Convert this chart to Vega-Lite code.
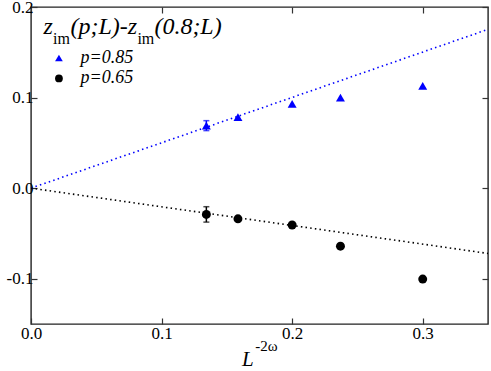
{
  "$schema": "https://vega.github.io/schema/vega-lite/v6.json",
  "width": 457,
  "height": 317,
  "autosize": {"type": "none"},
  "padding": {"left": 31, "top": 7, "right": 3, "bottom": 47},
  "background": "white",
  "config": {
    "view": {"stroke": "#222222", "strokeWidth": 1.4},
    "font": "Times New Roman, Liberation Serif, DejaVu Serif, serif",
    "text": {"font": "Times New Roman, Liberation Serif, DejaVu Serif, serif"},
    "axis": {
      "grid": false,
      "domain": false,
      "tickSize": -6,
      "tickColor": "#333333",
      "tickWidth": 1.2,
      "labelFont": "Times New Roman, Liberation Serif, DejaVu Serif, serif",
      "labelFontSize": 17,
      "labelColor": "#000000",
      "title": null
    }
  },
  "datasets": {
    "one": [{}],
    "lines": [
      {"p": "0.85", "x": 0, "y": 0},
      {"p": "0.85", "x": 0.35, "y": 0.1753},
      {"p": "0.65", "x": 0, "y": 0},
      {"p": "0.65", "x": 0.35, "y": -0.0721}
    ],
    "pts": [
      {"p": "0.85", "x": 0.1343, "y": 0.069},
      {"p": "0.85", "x": 0.1585, "y": 0.0784},
      {"p": "0.85", "x": 0.2, "y": 0.093},
      {"p": "0.85", "x": 0.237, "y": 0.1},
      {"p": "0.85", "x": 0.3, "y": 0.1129},
      {"p": "0.65", "x": 0.1343, "y": -0.029},
      {"p": "0.65", "x": 0.1585, "y": -0.0339},
      {"p": "0.65", "x": 0.2, "y": -0.0407},
      {"p": "0.65", "x": 0.237, "y": -0.0641},
      {"p": "0.65", "x": 0.3, "y": -0.1004}
    ],
    "errs": [
      {"p": "0.85", "x": 0.1343, "lo": 0.0635, "hi": 0.0745},
      {"p": "0.65", "x": 0.1343, "lo": -0.0375, "hi": -0.0205}
    ]
  },
  "layer": [
    {
      "data": {"name": "lines"},
      "mark": {"type": "line", "strokeDash": [1.5, 3.2], "strokeWidth": 1.6},
      "encoding": {
        "x": {
          "field": "x", "type": "quantitative",
          "scale": {"domain": [0, 0.35], "nice": false, "zero": false},
          "axis": {"orient": "bottom", "values": [0, 0.1, 0.2, 0.3], "labelPadding": 7, "labelFlush": false,
                   "labelExpr": "datum.value < 0 ? '-' + format(-datum.value, '.1f') : format(datum.value, '.1f')"}
        },
        "y": {
          "field": "y", "type": "quantitative",
          "scale": {"domain": [-0.15, 0.2], "nice": false, "zero": false},
          "axis": {"orient": "left", "values": [-0.1, 0, 0.1, 0.2], "labelPadding": 4,
                   "labelExpr": "datum.value < 0 ? '-' + format(-datum.value, '.1f') : format(datum.value, '.1f')"}
        },
        "color": {"field": "p", "type": "nominal",
                  "scale": {"domain": ["0.85", "0.65"], "range": ["#0000ff", "#000000"]}, "legend": null}
      }
    },
    {
      "data": {"name": "errs"},
      "mark": {"type": "rule", "strokeWidth": 1.5},
      "encoding": {
        "x": {"field": "x", "type": "quantitative", "axis": null},
        "y": {"field": "lo", "type": "quantitative", "axis": null},
        "y2": {"field": "hi"},
        "color": {"field": "p", "type": "nominal", "legend": null}
      }
    },
    {
      "data": {"name": "errs"},
      "mark": {"type": "tick", "orient": "horizontal", "size": 6, "thickness": 1.5},
      "encoding": {
        "x": {"field": "x", "type": "quantitative", "axis": null},
        "y": {"field": "lo", "type": "quantitative", "axis": null},
        "color": {"field": "p", "type": "nominal", "legend": null}
      }
    },
    {
      "data": {"name": "errs"},
      "mark": {"type": "tick", "orient": "horizontal", "size": 6, "thickness": 1.5},
      "encoding": {
        "x": {"field": "x", "type": "quantitative", "axis": null},
        "y": {"field": "hi", "type": "quantitative", "axis": null},
        "color": {"field": "p", "type": "nominal", "legend": null}
      }
    },
    {
      "data": {"name": "pts"},
      "mark": {"type": "point", "filled": true, "opacity": 1, "size": 80},
      "encoding": {
        "x": {"field": "x", "type": "quantitative",
              "axis": {"orient": "top", "values": [0, 0.1, 0.2, 0.3], "labels": false}},
        "y": {"field": "y", "type": "quantitative",
              "axis": {"orient": "right", "values": [-0.1, 0, 0.1, 0.2], "labels": false}},
        "color": {"field": "p", "type": "nominal", "legend": null},
        "shape": {"field": "p", "type": "nominal",
                  "scale": {"domain": ["0.85", "0.65"], "range": ["triangle-up", "circle"]}, "legend": null}
      }
    },
    {
      "data": {"name": "one"},
      "mark": {"type": "point", "filled": true, "opacity": 1, "size": 60, "shape": "triangle-up", "color": "#0000ff"},
      "encoding": {"x": {"datum": 0.0214, "type": "quantitative", "axis": null}, "y": {"datum": 0.1437, "type": "quantitative", "axis": null}}
    },
    {
      "data": {"name": "one"},
      "mark": {"type": "point", "filled": true, "opacity": 1, "size": 60, "shape": "circle", "color": "#000000"},
      "encoding": {"x": {"datum": 0.0214, "type": "quantitative", "axis": null}, "y": {"datum": 0.1211, "type": "quantitative", "axis": null}}
    },
    {
      "data": {"name": "one"},
      "mark": {"type": "text", "fontStyle": "italic", "fontSize": 18, "align": "left", "baseline": "alphabetic", "color": "#000000"},
      "encoding": {"x": {"datum": 0.0379, "type": "quantitative", "axis": null}, "y": {"datum": 0.1385, "type": "quantitative", "axis": null}, "text": {"value": "p=0.85"}}
    },
    {
      "data": {"name": "one"},
      "mark": {"type": "text", "fontStyle": "italic", "fontSize": 18, "align": "left", "baseline": "alphabetic", "color": "#000000"},
      "encoding": {"x": {"datum": 0.0379, "type": "quantitative", "axis": null}, "y": {"datum": 0.1165, "type": "quantitative", "axis": null}, "text": {"value": "p=0.65"}}
    },
    {
      "data": {"name": "one"},
      "mark": {"type": "text", "fontStyle": "italic", "fontSize": 24, "align": "left", "baseline": "alphabetic", "color": "#000000"},
      "encoding": {"x": {"datum": 0.0096, "type": "quantitative", "axis": null}, "y": {"datum": 0.1707, "type": "quantitative", "axis": null}, "text": {"value": "z"}}
    },
    {
      "data": {"name": "one"},
      "mark": {"type": "text", "fontSize": 16, "align": "left", "baseline": "alphabetic", "color": "#000000"},
      "encoding": {"x": {"datum": 0.0168, "type": "quantitative", "axis": null}, "y": {"datum": 0.1588, "type": "quantitative", "axis": null}, "text": {"value": "im"}}
    },
    {
      "data": {"name": "one"},
      "mark": {"type": "text", "fontStyle": "italic", "fontSize": 24, "align": "left", "baseline": "alphabetic", "color": "#000000"},
      "encoding": {"x": {"datum": 0.0302, "type": "quantitative", "axis": null}, "y": {"datum": 0.1707, "type": "quantitative", "axis": null}, "text": {"value": "(p;L)-z"}}
    },
    {
      "data": {"name": "one"},
      "mark": {"type": "text", "fontSize": 16, "align": "left", "baseline": "alphabetic", "color": "#000000"},
      "encoding": {"x": {"datum": 0.0815, "type": "quantitative", "axis": null}, "y": {"datum": 0.1588, "type": "quantitative", "axis": null}, "text": {"value": "im"}}
    },
    {
      "data": {"name": "one"},
      "mark": {"type": "text", "fontStyle": "italic", "fontSize": 24, "align": "left", "baseline": "alphabetic", "color": "#000000"},
      "encoding": {"x": {"datum": 0.0945, "type": "quantitative", "axis": null}, "y": {"datum": 0.1707, "type": "quantitative", "axis": null}, "text": {"value": "(0.8;L)"}}
    },
    {
      "data": {"name": "one"},
      "mark": {"type": "text", "fontStyle": "italic", "fontSize": 21, "align": "left", "baseline": "alphabetic", "color": "#000000"},
      "encoding": {"x": {"datum": 0.1616, "type": "quantitative", "axis": null}, "y": {"datum": -0.1963, "type": "quantitative", "axis": null}, "text": {"value": "L"}}
    },
    {
      "data": {"name": "one"},
      "mark": {"type": "text", "fontSize": 15, "align": "left", "baseline": "alphabetic", "color": "#000000"},
      "encoding": {"x": {"datum": 0.1718, "type": "quantitative", "axis": null}, "y": {"datum": -0.1802, "type": "quantitative", "axis": null}, "text": {"value": "-2ω"}}
    }
  ],
  "resolve": {"axis": {"x": "independent", "y": "independent"}}
}
